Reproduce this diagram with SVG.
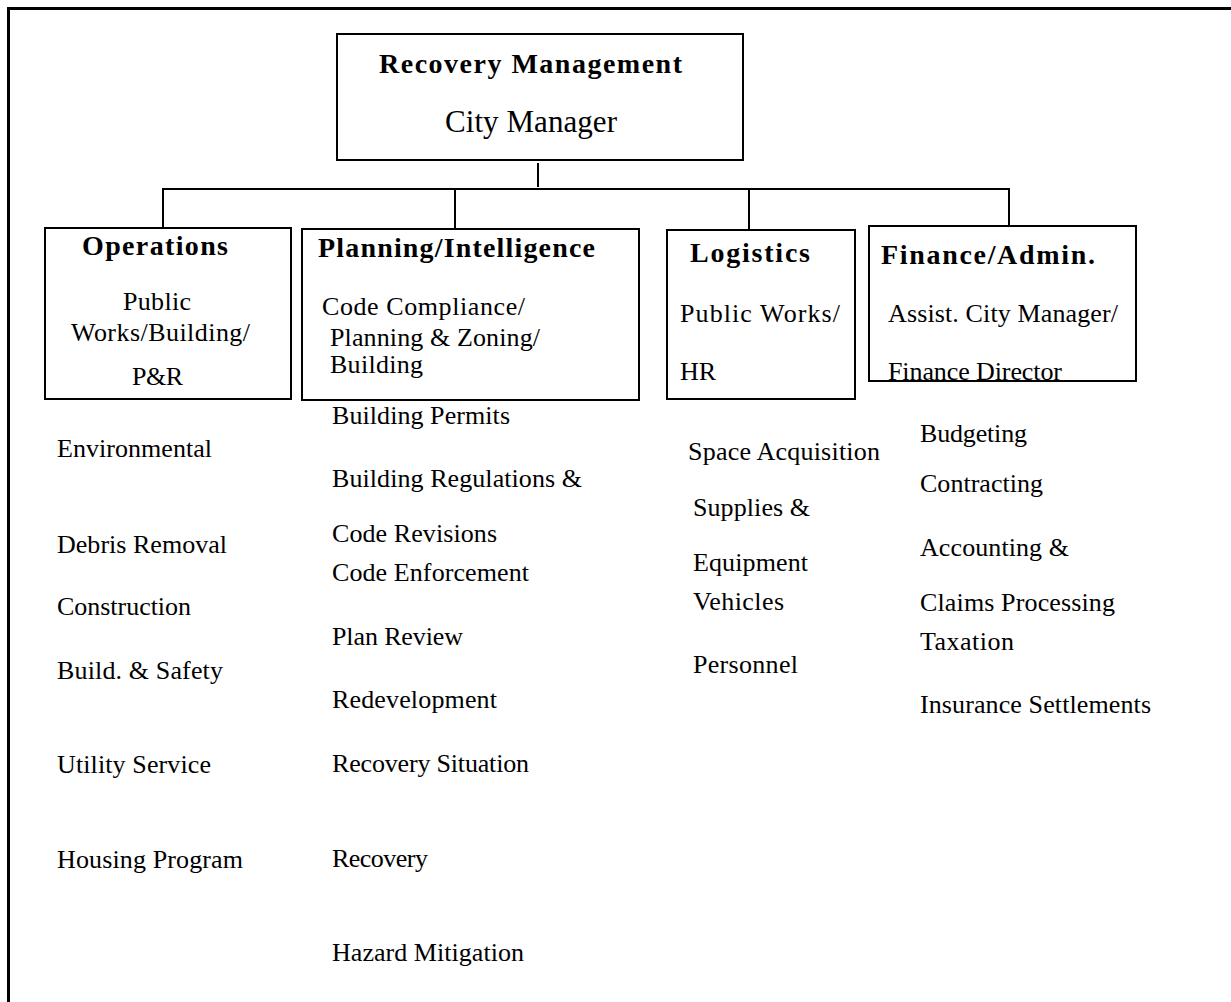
<svg xmlns="http://www.w3.org/2000/svg" width="1231" height="1002" viewBox="0 0 1231 1002">
<style>
  .box { fill: #fff; stroke: #000; stroke-width: 2; }
  .conn { fill: none; stroke: #000; stroke-width: 2; }
  .frame { fill: none; stroke: #000; stroke-width: 3; }
  text { font-family: "Liberation Serif", "Times New Roman", Times, serif; fill: #000; }
  .hd { font-size: 28px; font-weight: bold; }
  .tx { font-size: 26px; }
  .big { font-size: 31px; }
  .it { font-size: 26px; }
</style>
<rect x="0" y="0" width="1231" height="1002" fill="#fff"/>
<path class="frame" d="M8.5,1002 V8.5 H1231"/>

<g id="connectors">
  <line class="conn" x1="538" y1="163" x2="538" y2="187"/>
  <path class="conn" d="M163,229 V189 H1009 V226"/>
  <line class="conn" x1="455" y1="189" x2="455" y2="229"/>
  <line class="conn" x1="749" y1="189" x2="749" y2="230"/>
</g>

<g id="recovery-management">
  <rect class="box" x="337" y="34" width="406" height="126"/>
  <text class="hd" x="379" y="73" textLength="303" lengthAdjust="spacing">Recovery Management</text>
  <text class="big" x="445" y="132" textLength="172" lengthAdjust="spacing">City Manager</text>
</g>

<g id="operations">
  <rect class="box" x="45" y="228" width="246" height="171"/>
  <text class="hd" x="82" y="255" textLength="146" lengthAdjust="spacing">Operations</text>
  <text class="tx" x="123" y="310" textLength="68" lengthAdjust="spacing">Public</text>
  <text class="tx" x="71" y="341" textLength="179" lengthAdjust="spacing">Works/Building/</text>
  <text class="tx" x="132" y="385" textLength="51" lengthAdjust="spacing">P&amp;R</text>
</g>

<g id="planning-intelligence">
  <rect class="box" x="302" y="229" width="337" height="171"/>
  <text class="hd" x="318" y="257" textLength="277" lengthAdjust="spacing">Planning/Intelligence</text>
  <text class="tx" x="322" y="315" textLength="203" lengthAdjust="spacing">Code Compliance/</text>
  <text class="tx" x="330" y="346" font-size="24" textLength="210" lengthAdjust="spacing">Planning &amp; Zoning/</text>
  <text class="tx" x="330" y="373" font-size="24" textLength="93" lengthAdjust="spacing">Building</text>
</g>

<g id="logistics">
  <rect class="box" x="667" y="230" width="188" height="169"/>
  <text class="hd" x="690" y="262" textLength="120" lengthAdjust="spacing">Logistics</text>
  <text class="tx" x="680" y="322" textLength="160" lengthAdjust="spacing">Public Works/</text>
  <text class="tx" x="680" y="380" textLength="36" lengthAdjust="spacing">HR</text>
</g>

<g id="finance-admin">
  <rect class="box" x="869" y="226" width="267" height="155"/>
  <text class="hd" x="881" y="264" textLength="214" lengthAdjust="spacing">Finance/Admin.</text>
  <text class="tx" x="888" y="322" font-size="25" textLength="230" lengthAdjust="spacing">Assist. City Manager/</text>
  <text class="tx" x="888" y="380" textLength="174" lengthAdjust="spacing">Finance Director</text>
  <line x1="869" y1="381" x2="1136" y2="381" stroke="#000" stroke-width="2"/>
</g>

<g id="operations-items">
  <text class="it" x="57" y="457" textLength="155" lengthAdjust="spacing">Environmental</text>
  <text class="it" x="57" y="553" textLength="170" lengthAdjust="spacing">Debris Removal</text>
  <text class="it" x="57" y="615" textLength="134" lengthAdjust="spacing">Construction</text>
  <text class="it" x="57" y="679" textLength="166" lengthAdjust="spacing">Build. &amp; Safety</text>
  <text class="it" x="57" y="773" textLength="154" lengthAdjust="spacing">Utility Service</text>
  <text class="it" x="57" y="868" textLength="186" lengthAdjust="spacing">Housing Program</text>
</g>

<g id="planning-items">
  <text class="it" x="332" y="424" textLength="178" lengthAdjust="spacing">Building Permits</text>
  <text class="it" x="332" y="487" textLength="250" lengthAdjust="spacing">Building Regulations &amp;</text>
  <text class="it" x="332" y="542" textLength="165" lengthAdjust="spacing">Code Revisions</text>
  <text class="it" x="332" y="581" textLength="197" lengthAdjust="spacing">Code Enforcement</text>
  <text class="it" x="332" y="645" textLength="131" lengthAdjust="spacing">Plan Review</text>
  <text class="it" x="332" y="708" textLength="165" lengthAdjust="spacing">Redevelopment</text>
  <text class="it" x="332" y="772" textLength="197" lengthAdjust="spacing">Recovery Situation</text>
  <text class="it" x="332" y="867" textLength="96" lengthAdjust="spacing">Recovery</text>
  <text class="it" x="332" y="961" textLength="192" lengthAdjust="spacing">Hazard Mitigation</text>
</g>

<g id="logistics-items">
  <text class="it" x="688" y="460" textLength="192" lengthAdjust="spacing">Space Acquisition</text>
  <text class="it" x="693" y="516" textLength="117" lengthAdjust="spacing">Supplies &amp;</text>
  <text class="it" x="693" y="571" textLength="115" lengthAdjust="spacing">Equipment</text>
  <text class="it" x="693" y="610" textLength="91" lengthAdjust="spacing">Vehicles</text>
  <text class="it" x="693" y="673" textLength="105" lengthAdjust="spacing">Personnel</text>
</g>

<g id="finance-items">
  <text class="it" x="920" y="442" textLength="107" lengthAdjust="spacing">Budgeting</text>
  <text class="it" x="920" y="492" textLength="123" lengthAdjust="spacing">Contracting</text>
  <text class="it" x="920" y="556" textLength="149" lengthAdjust="spacing">Accounting &amp;</text>
  <text class="it" x="920" y="611" textLength="195" lengthAdjust="spacing">Claims Processing</text>
  <text class="it" x="920" y="650" textLength="94" lengthAdjust="spacing">Taxation</text>
  <text class="it" x="920" y="713" textLength="231" lengthAdjust="spacing">Insurance Settlements</text>
</g>
</svg>
